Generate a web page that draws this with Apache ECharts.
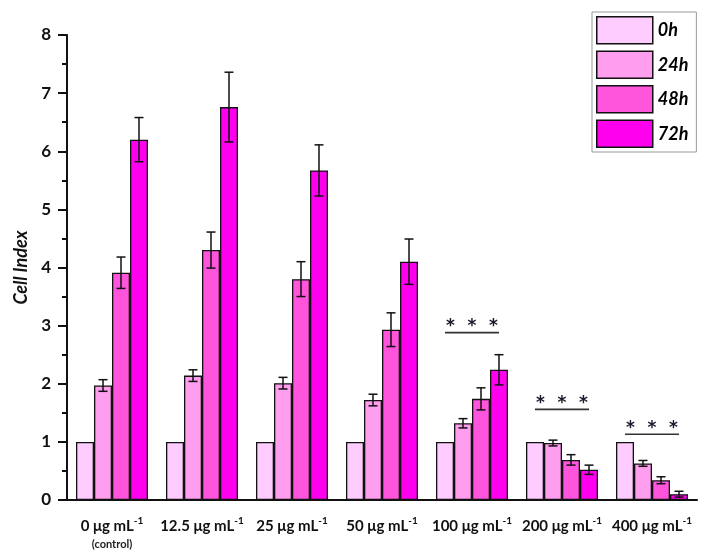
<!DOCTYPE html>
<html>
<head>
<meta charset="utf-8">
<script src="https://cdn.jsdelivr.net/npm/echarts@6/dist/echarts.min.js"></script>
<style>html,body{margin:0;padding:0;background:#fff}#c{width:713px;height:557px}</style>
</head>
<body>
<div id="c"></div>
<script>
// ---- data ----
const doses = ['0', '12.5', '25', '50', '100', '200', '400'];
const unit = 'μg mL';
const unitSup = '-1';
const subLabels = ['(control)', '', '', '', '', '', ''];
const seriesNames = ['0h', '24h', '48h', '72h'];
const v0h  = [1, 1, 1, 1, 1, 1, 1];
const v24h = [1.97, 2.14, 2.01, 1.72, 1.32, 0.98, 0.63];
const v48h = [3.91, 4.30, 3.80, 2.93, 1.74, 0.69, 0.34];
const v72h = [6.20, 6.76, 5.67, 4.10, 2.24, 0.52, 0.10];
const e24h = [0.10, 0.10, 0.10, 0.10, 0.08, 0.05, 0.05];
const e48h = [0.27, 0.31, 0.30, 0.29, 0.19, 0.09, 0.06];
const e72h = [0.38, 0.60, 0.44, 0.39, 0.26, 0.08, 0.05];
const sigCats = [4, 5, 6];
const sigLevels = [2.88, 1.56, 1.13];
const sigText = '*';
const yTicks = [0, 1, 2, 3, 4, 5, 6, 7, 8];
const colors = ['#FFCCFF', '#FF9DEE', '#FF55DD', '#FF00EE'];

const font = 'Lato, "Open Sans", sans-serif';
const values = [v0h, v24h, v48h, v72h];
const errs = [null, e24h, e48h, e72h];
const barFrac = 0.8;

const series = [];
seriesNames.forEach((n, k) => {
  series.push({
    name: n, type: 'bar', data: values[k], barGap: '0%', barCategoryGap: '20%',
    itemStyle: { color: colors[k], borderColor: '#111', borderWidth: 1.3 },
    z: 2
  });
});
errs.forEach((e, k) => {
  if (!e) return;
  series.push({
    type: 'custom', z: 5, silent: true,
    data: doses.map((d, i) => [i, values[k][i], e[i]]),
    renderItem: function (params, api) {
      const cat = api.value(0), val = api.value(1), er = api.value(2);
      const band = api.size([1, 0])[0];
      const bw = band * barFrac / 4;
      const c = api.coord([cat, val]);
      const x = c[0] + (k - 1.5) * bw;
      const top = api.coord([cat, val + er])[1];
      const bot = api.coord([cat, val - er])[1];
      const hw = 4.5;
      const st = { stroke: '#111', lineWidth: 1.5 };
      return { type: 'group', children: [
        { type: 'line', shape: { x1: x, y1: top, x2: x, y2: bot }, style: st },
        { type: 'line', shape: { x1: x - hw, y1: top, x2: x + hw, y2: top }, style: st },
        { type: 'line', shape: { x1: x - hw, y1: bot, x2: x + hw, y2: bot }, style: st }
      ]};
    }
  });
});
series.push({
  type: 'custom', z: 5, silent: true,
  data: sigCats.map((c, i) => [c, sigLevels[i]]),
  renderItem: function (params, api) {
    const cat = api.value(0), lv = api.value(1);
    const band = api.size([1, 0])[0];
    const bw = band * barFrac / 4;
    const p = api.coord([cat, lv]);
    const children = [
      { type: 'line', shape: { x1: p[0] - 1.5 * bw, y1: p[1], x2: p[0] + 1.5 * bw, y2: p[1] },
        style: { stroke: '#333', lineWidth: 1.6 } }
    ];
    [-1, 0, 1].forEach(j => {
      children.push({ type: 'text', x: p[0] + j * 21.5, y: p[1] - 6,
        style: { text: sigText, fill: '#1a1a2a', font: 'bold 17px "DejaVu Sans"', textAlign: 'center', textVerticalAlign: 'middle' } });
    });
    return { type: 'group', children };
  }
});

const chart = echarts.init(document.getElementById('c'), null, { renderer: 'canvas' });
chart.setOption({
  animation: false,
  backgroundColor: '#fff',
  textStyle: { fontFamily: font },
  grid: { left: 67, right: 16, top: 35, bottom: 57, containLabel: false },
  legend: {
    data: seriesNames, orient: 'vertical', left: 592, top: 12,
    itemWidth: 56, itemHeight: 27, itemGap: 6, icon: 'rect',
    padding: [4, 8, 4, 4], borderColor: '#999', borderWidth: 1,
    itemStyle: { borderColor: '#111', borderWidth: 1.5 },
    textStyle: { fontFamily: font, fontSize: 18, fontWeight: 'bold', fontStyle: 'italic', color: '#000', padding: [0, 0, 0, 0] }
  },
  xAxis: [{
    type: 'category', data: doses, position: 'bottom',
    axisLine: { lineStyle: { color: '#111', width: 2 } },
    axisTick: { alignWithLabel: true, length: 10, lineStyle: { color: '#111', width: 2.5 } },
    axisLabel: {
      margin: 17, interval: 0, color: '#111',
      formatter: function (v, i) {
        let s = '{a|' + v + ' ' + unit + '}{s|' + unitSup + '}';
        if (subLabels[i]) s += '\n{c|' + subLabels[i] + '}';
        return s;
      },
      rich: {
        a: { fontFamily: font, fontSize: 15, fontWeight: 'bold', color: '#111', lineHeight: 18 },
        s: { fontFamily: font, fontSize: 10, fontWeight: 'bold', color: '#111', padding: [0, 0, 10, 0], lineHeight: 18 },
        c: { fontFamily: font, fontSize: 11, fontWeight: 'bold', color: '#222', lineHeight: 18 }
      }
    }
  }, {
    type: 'category', data: doses, position: 'bottom',
    axisLine: { show: false },
    axisTick: { alignWithLabel: false, length: 6, lineStyle: { color: '#111', width: 2.5 } },
    axisLabel: { show: false }
  }],
  yAxis: {
    type: 'value', min: yTicks[0], max: yTicks[yTicks.length - 1], interval: 1,
    name: 'Cell Index', nameLocation: 'middle', nameGap: 35,
    nameTextStyle: { fontFamily: font, fontSize: 18, fontWeight: 'bold', fontStyle: 'italic', color: '#111' },
    axisLine: { show: true, lineStyle: { color: '#111', width: 2 } },
    axisTick: { show: true, length: 9, lineStyle: { color: '#111', width: 2 } },
    minorTick: { show: true, splitNumber: 2, length: 5, lineStyle: { color: '#111', width: 2 } },
    splitLine: { show: false },
    axisLabel: { margin: 16, fontFamily: font, fontSize: 17, fontWeight: 'bold', color: '#111' }
  },
  series: series
});
</script>
</body>
</html>
